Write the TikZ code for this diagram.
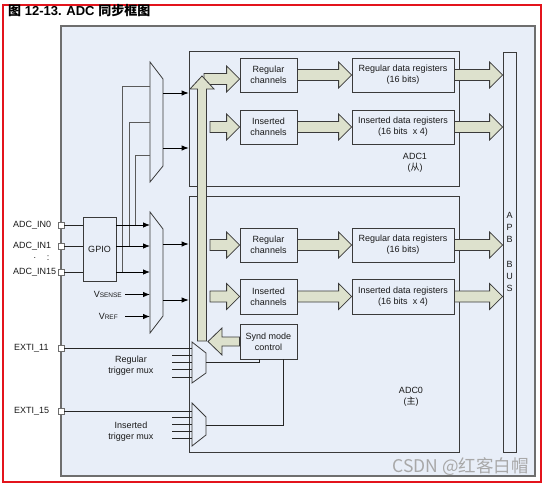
\documentclass[tikz,border=0pt]{standalone}
\usepackage{fontspec}
\setmainfont{Liberation Sans}
\newfontfamily\cjk{Noto Sans CJK SC}
\usetikzlibrary{calc,arrows.meta}
\definecolor{bg}{HTML}{E8EEF8}
\definecolor{fatfill}{HTML}{DDE1CD}
\definecolor{edge}{HTML}{3A3A3A}
\definecolor{frame}{HTML}{6E6E6E}
\definecolor{tapc}{HTML}{5A5A5A}
\definecolor{wm}{HTML}{A8A8A8}
\definecolor{redframe}{HTML}{E3141C}
\tikzset{
  blk/.style={draw=edge, line width=0.8pt, fill=bg, align=center, inner sep=0pt, text=black!90},
  frm/.style={draw=edge, line width=0.8pt, inner sep=0pt},
  muxst/.style={draw=edge, line width=0.8pt, fill=bg},
  pinbox/.style={draw=frame, fill=white, line width=0.8pt, minimum size=6pt, inner sep=0pt},
  wire/.style={draw=black!85, line width=0.8pt},
  tap/.style={draw=tapc, line width=1pt},
  sig/.style={draw=black, line width=0.8pt, -{Latex[length=7pt,width=5.5pt]}},
  fat/.style={draw=edge, line width=0.8pt, fill=fatfill, line join=miter},
  lbl/.style={inner sep=0pt, text=black!90}
}
% right-pointing fat arrow: start point #1, tip point #2
\newcommand\fatR[2]{\draw[fat] let \p1=#1, \p2=#2 in
  (\x1,{\y2+5.5pt}) -- ({\x2-13pt},{\y2+5.5pt}) -- ({\x2-13pt},{\y2+13pt}) -- (\x2,\y2)
  -- ({\x2-13pt},{\y2-13pt}) -- ({\x2-13pt},{\y2-5.5pt}) -- (\x1,{\y2-5.5pt}) -- cycle;}
% left-pointing fat arrow: start point #1, tip point #2
\newcommand\fatL[2]{\draw[fat] let \p1=#1, \p2=#2 in
  (\x1,{\y2+4.5pt}) -- ({\x2+14pt},{\y2+4.5pt}) -- ({\x2+14pt},{\y2+13.5pt}) -- (\x2,\y2)
  -- ({\x2+14pt},{\y2-13.5pt}) -- ({\x2+14pt},{\y2-4.5pt}) -- (\x1,{\y2-4.5pt}) -- cycle;}
% up-pointing fat arrow: bottom point #1, tip point #2
\newcommand\fatU[2]{\draw[fat] let \p1=#1, \p2=#2 in
  ({\x2-4.5pt},\y1) -- ({\x2-4.5pt},{\y2-13pt}) -- ({\x2-12pt},{\y2-13pt}) -- (\x2,\y2)
  -- ({\x2+12pt},{\y2-13pt}) -- ({\x2+4.5pt},{\y2-13pt}) -- ({\x2+4.5pt},\y1) -- cycle;}
\begin{document}
\begin{tikzpicture}[x=1pt,y=-1pt,font=\fontsize{9}{11}\selectfont]
\useasboundingbox (0,0) rectangle (544,485);
\fill[white] (0,0) rectangle (544,485);
\draw[redframe, line width=2pt] (3,4.5) rectangle (540.5,481.5);
\node[anchor=base west, inner sep=0pt, font=\fontsize{13}{15}\selectfont\bfseries] (title) at (8,15.5)
  {{\cjk 图} 12-13. ADC {\cjk 同步框图}};

% frames
\node[draw=frame, fill=bg, line width=1.2pt, minimum width=474pt, minimum height=450pt, inner sep=0pt] (outer) at (298,251) {};
\node[frm, minimum width=270pt, minimum height=135pt] (adc1) at (324,118.5) {};
\node[frm, minimum width=270pt, minimum height=256pt] (adc0) at (324,324) {};
\node[frm, fill=bg, minimum width=13pt, minimum height=400pt] (bus) at (509.5,252) {};
\node[lbl, align=center, font=\fontsize{9}{12.2}\selectfont] (buslbl) at (509.5,252) {A\\P\\B\\[12.2pt]B\\U\\S};
\node[lbl, align=center] (adc1lbl) at (415,163) {ADC1\\({\cjk 从})};
\node[lbl, align=center] (adc0lbl) at (411,397) {ADC0\\({\cjk 主})};

% blocks ADC1
\node[blk, minimum width=57pt, minimum height=34pt] (rc1) at (268.5,75) {Regular\\channels};
\node[blk, minimum width=57pt, minimum height=34pt] (ic1) at (268.5,127) {Inserted\\channels};
\node[blk, minimum width=102pt, minimum height=34pt] (rd1) at (403,75) {Regular data registers\\(16 bits)};
\node[blk, minimum width=102pt, minimum height=34pt] (id1) at (403,127) {Inserted data registers\\(16 bits~~x 4)};
% blocks ADC0
\node[blk, minimum width=57pt, minimum height=34pt] (rc0) at (268.5,245) {Regular\\channels};
\node[blk, minimum width=57pt, minimum height=35pt] (ic0) at (268.5,296.5) {Inserted\\channels};
\node[blk, minimum width=102pt, minimum height=34pt] (rd0) at (403,245) {Regular data registers\\(16 bits)};
\node[blk, minimum width=102pt, minimum height=35pt] (id0) at (403,296.5) {Inserted data registers\\(16 bits~~x 4)};
\node[blk, minimum width=57pt, minimum height=35pt] (synd) at (268.5,341.5) {Synd mode\\control};

% GPIO and pins
\node[blk, minimum width=33pt, minimum height=64pt] (gpio) at (99.5,249) {GPIO};
\node[pinbox] (p0) at (61,225) {};
\node[pinbox] (p1) at (61,246) {};
\node[pinbox] (p15) at (61,272) {};
\node[pinbox] (e11) at (61,348) {};
\node[pinbox] (e15) at (61,411) {};
\node[lbl, anchor=west] (lp0) at (13,225) {ADC\_IN0};
\node[lbl, anchor=west] (lp1) at (13,246) {ADC\_IN1};
\node[lbl, anchor=west] (lp15) at (13,272) {ADC\_IN15};
\node[lbl] (dot1) at (35,258.5) {.};
\node[lbl] (dot2) at (48,258.5) {:};
\node[lbl, anchor=west] (le11) at (14,348) {EXTI\_11};
\node[lbl, anchor=west] (le15) at (14,411) {EXTI\_15};
\node[lbl, anchor=east] (vs) at (122,294.5) {V{\fontsize{6.5}{7}\selectfont SENSE}};
\node[lbl, anchor=east] (vr) at (118,316.5) {V{\fontsize{6.5}{7}\selectfont REF}};
\node[lbl, align=center] (rtm) at (131,366) {Regular\\trigger mux};
\node[lbl, align=center] (itm) at (131,432) {Inserted\\trigger mux};

% muxes
\draw[muxst] (150,62) -- (163,79) -- (163,166) -- (150,182) -- cycle;
\draw[muxst] (150,212) -- (163,229) -- (163,316) -- (150,333) -- cycle;
\draw[muxst] (192,342) -- (206,353) -- (206,373) -- (192,383) -- cycle;
\draw[muxst] (192,403) -- (206,417) -- (206,435) -- (192,446) -- cycle;
\coordinate (ma) at (150,86);
\coordinate (mb) at (150,122);
\coordinate (mc) at (150,155);
\coordinate (mo1) at (163,93);
\coordinate (mo2) at (163,148);
\coordinate (ni0) at (150,225);
\coordinate (ni1) at (150,246);
\coordinate (ni15) at (150,272);
\coordinate (nis) at (150,294.5);
\coordinate (nir) at (150,316.5);
\coordinate (no1) at (163,244);
\coordinate (no2) at (163,300);
\coordinate (rti) at (192,348);
\coordinate (iti) at (192,411);
\coordinate (rto) at (206,362);
\coordinate (ito) at (206,425);
\coordinate (tap0) at (135,225);
\coordinate (tap1) at (129,246);
\coordinate (tap15) at (122,272);

% wires
\draw[wire] (p0.east) -- (gpio.west |- p0);
\draw[wire] (p1.east) -- (gpio.west |- p1);
\draw[wire] (p15.east) -- (gpio.west |- p15);
\draw[tap] (tap0) |- (mc);
\draw[tap] (tap1) |- (mb);
\draw[tap] (tap15) |- (ma);
\draw[sig] (gpio.east |- p0) -- (ni0);
\draw[sig] (gpio.east |- p1) -- (ni1);
\draw[sig] (gpio.east |- p15) -- (ni15);
\draw[sig] ($(vs.east)+(3,0)$) -- (nis);
\draw[sig] ($(vr.east)+(7,0)$) -- (nir);
\draw[sig] (mo1) -- (adc1.west |- mo1);
\draw[sig] (mo2) -- (adc1.west |- mo2);
\draw[sig] (no1) -- (adc0.west |- no1);
\draw[sig] (no2) -- (adc0.west |- no2);
\draw[wire] (e11.east) -- (rti);
\draw[wire] (e15.east) -- (iti);
\foreach \yy in {355,362,369,377} \draw[wire] (172,\yy) -- (192,\yy);
\foreach \yy in {417,424,431,438} \draw[wire] (172,\yy) -- (192,\yy);
\draw[wire] (rto) -| ($(synd.south west)!0.35!(synd.south east)$);
\draw[wire] (ito) -| ($(synd.south west)!0.754!(synd.south east)$);

% fat arrows
\coordinate (vtop) at (202,76);
\coordinate (vbot) at (202,341);
\fatR{(204,79)}{($(rc1.west)+(0,4)$)}
\fatR{(210,127)}{(ic1.west)}
\fatR{(210,245)}{(rc0.west)}
\fatR{(210,296.5)}{(ic0.west)}
\fatR{(rc1.east)}{(rd1.west)}
\fatR{(ic1.east)}{(id1.west)}
\fatR{(rc0.east)}{(rd0.west)}
\fatR{(ic0.east)}{(id0.west)}
\fatR{(rd1.east)}{(bus.west |- rd1.east)}
\fatR{(id1.east)}{(bus.west |- id1.east)}
\fatR{(rd0.east)}{(bus.west |- rd0.east)}
\fatR{(id0.east)}{(bus.west |- id0.east)}
\fatU{(vbot)}{(vtop)}
\fatL{(synd.west)}{(208,341.5)}

% watermark
\node[anchor=east, inner sep=0pt, text=wm, font=\cjk\fontsize{17.5}{19}\selectfont] (wmk) at (529,467) {CSDN @红客白帽};
\end{tikzpicture}
\end{document}
